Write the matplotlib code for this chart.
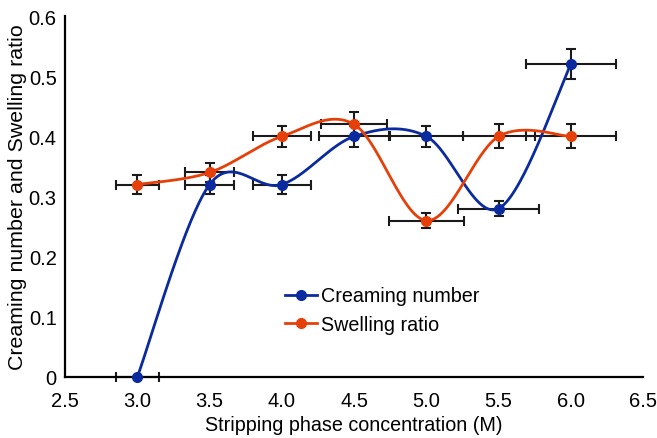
import numpy as np
import matplotlib
matplotlib.use("Agg")
import matplotlib.pyplot as plt

plt.rcParams['font.family'] = ['Liberation Sans', 'DejaVu Sans']

conc = [3.0, 3.5, 4.0, 4.5, 5.0, 5.5, 6.0]
creaming = [0.0, 0.32, 0.32, 0.40, 0.40, 0.28, 0.52]
creaming_xerr = [0.15, 0.17, 0.20, 0.24, 0.25, 0.28, 0.31]
creaming_yerr = [0.0, 0.015, 0.015, 0.017, 0.017, 0.013, 0.025]
swelling = [0.32, 0.34, 0.40, 0.42, 0.26, 0.40, 0.40]
swelling_xerr = [0.15, 0.17, 0.20, 0.23, 0.26, 0.25, 0.31]
swelling_yerr = [0.015, 0.015, 0.017, 0.02, 0.012, 0.02, 0.02]
xticks = [2.5, 3.0, 3.5, 4.0, 4.5, 5.0, 5.5, 6.0, 6.5]
xticklabels = ["2.5", "3.0", "3.5", "4.0", "4.5", "5.0", "5.5", "6.0", "6.5"]
yticks = [0, 0.1, 0.2, 0.3, 0.4, 0.5, 0.6]
yticklabels = ["0", "0.1", "0.2", "0.3", "0.4", "0.5", "0.6"]

BLUE = "#0a2a9e"
ORANGE = "#e6400a"


def smooth_curve(x, y, n=60):
    """Catmull-Rom style (Bezier) smoothing of a polyline, like spreadsheet smoothed lines."""
    P = np.column_stack([np.asarray(x, float), np.asarray(y, float)])
    m = len(P)
    out = []
    t = np.linspace(0, 1, n)[:, None]
    for i in range(m - 1):
        p0 = P[i - 1] if i > 0 else P[i]
        p1 = P[i]
        p2 = P[i + 1]
        p3 = P[i + 2] if i + 2 < m else P[i + 1]
        c1 = p1 + (p2 - p0) / 6.0
        c2 = p2 - (p3 - p1) / 6.0
        seg = ((1 - t) ** 3) * p1 + 3 * ((1 - t) ** 2) * t * c1 + 3 * (1 - t) * t ** 2 * c2 + t ** 3 * p2
        out.append(seg if i == 0 else seg[1:])
    out = np.vstack(out)
    return out[:, 0], out[:, 1]


fig = plt.figure(figsize=(6.57, 4.39), dpi=100)
ax = fig.add_axes([0.099, 0.139, 0.880, 0.822])

for yv, xe, ye in [(creaming, creaming_xerr, creaming_yerr), (swelling, swelling_xerr, swelling_yerr)]:
    ax.errorbar(conc, yv, xerr=xe, yerr=ye, fmt='none', ecolor='#1a1a1a',
                elinewidth=1.5, capsize=3.5, capthick=1.5, zorder=2, clip_on=False)

for yv, col, lab in [(creaming, BLUE, "Creaming number"), (swelling, ORANGE, "Swelling ratio")]:
    xs, ys = smooth_curve(conc, yv)
    ax.plot(xs, ys, color=col, lw=2, zorder=3, clip_on=False)
    ax.plot(conc, yv, 'o', color=col, ms=7, zorder=4, clip_on=False)
    ax.plot([], [], '-o', color=col, lw=2, ms=7, label=lab)

ax.set_xlim(2.5, 6.5)
ax.set_ylim(0, 0.6)
ax.set_xticks(xticks)
ax.set_xticklabels(xticklabels)
ax.set_yticks(yticks)
ax.set_yticklabels(yticklabels)
ax.tick_params(length=0, labelsize=14.5)
ax.tick_params(axis='x', pad=10)
ax.tick_params(axis='y', pad=6)
for s in ['top', 'right']:
    ax.spines[s].set_visible(False)
for s in ['left', 'bottom']:
    ax.spines[s].set_linewidth(1.6)
ax.set_xlabel("Stripping phase concentration (M)", fontsize=14.2, labelpad=4)
ax.set_ylabel("Creaming number and Swelling ratio", fontsize=15.4, labelpad=1)

ax.legend(loc='upper left', bbox_to_anchor=(0.35, 0.30), frameon=False,
          fontsize=14.2, handlelength=1.6, handletextpad=0.2, labelspacing=0.5)

fig.savefig("out.png", dpi=100)
